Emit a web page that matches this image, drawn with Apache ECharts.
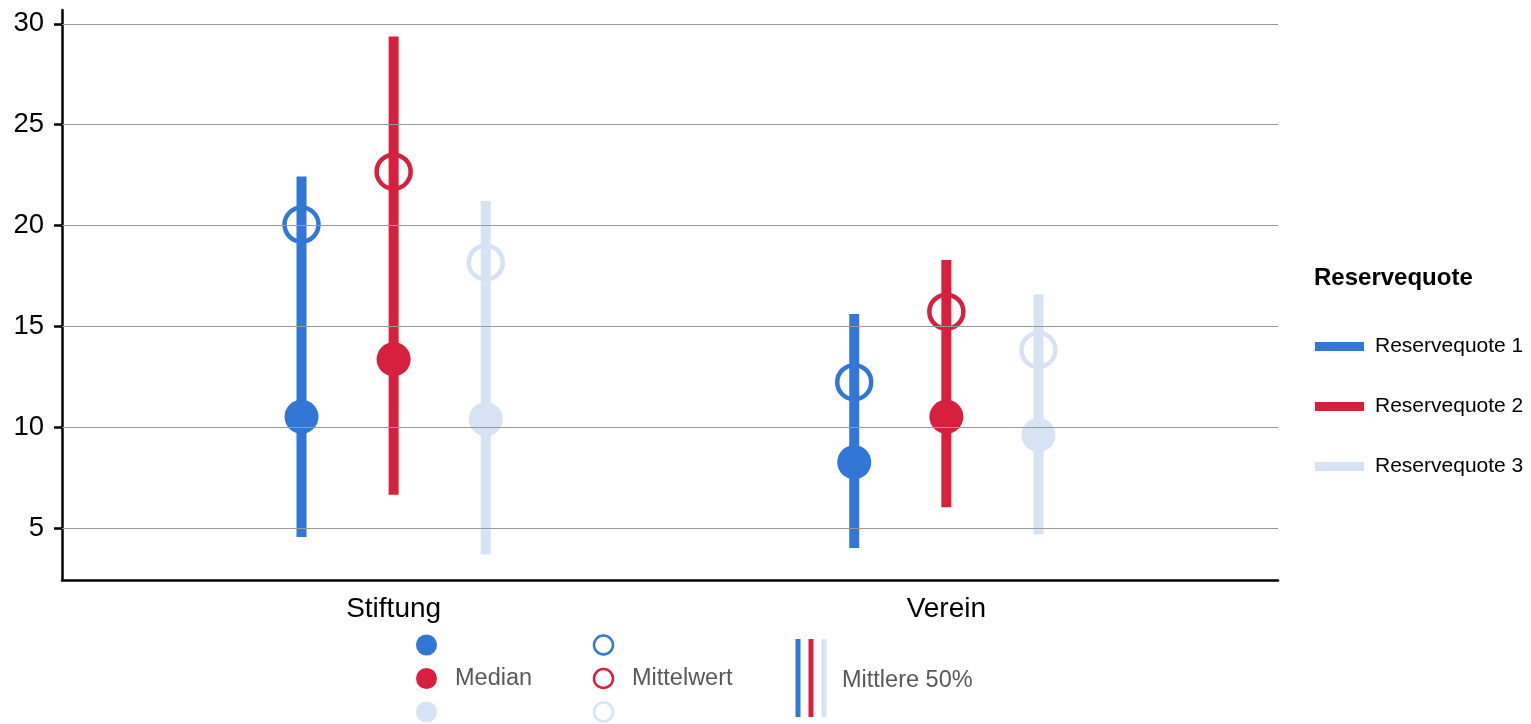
<!DOCTYPE html>
<html>
<head>
<meta charset="utf-8">
<script src="https://cdn.jsdelivr.net/npm/echarts@6/dist/echarts.min.js"></script>
<style>html,body{margin:0;padding:0;background:#fff}#c{width:1531px;height:724px}</style>
</head>
<body>
<div id="c"></div>
<script>
// ---- data ----
const categories = ['Stiftung', 'Verein'];
const groupNames = ['Reservequote 1', 'Reservequote 2', 'Reservequote 3'];
const yTicks = [5, 10, 15, 20, 25, 30];

const rq1Low    = [4.55, 4.01];
const rq1High   = [22.43, 15.61];
const rq1Median = [10.52, 8.26];
const rq1Mean   = [20.05, 12.23];

const rq2Low    = [6.65, 6.03];
const rq2High   = [29.37, 18.29];
const rq2Median = [13.37, 10.52];
const rq2Mean   = [22.67, 15.73];

const rq3Low    = [3.69, 4.69];
const rq3High   = [21.22, 16.59];
const rq3Median = [10.39, 9.61];
const rq3Mean   = [18.17, 13.83];

// ---- styling ----
const colors = ['#3276d6', '#d71f3e', '#d5e3f5'];
const FONT = '"Liberation Sans", Arial, sans-serif';
const dodge = 1 / 6;

const groups = [
  { low: rq1Low, high: rq1High, median: rq1Median, mean: rq1Mean },
  { low: rq2Low, high: rq2High, median: rq2Median, mean: rq2Mean },
  { low: rq3Low, high: rq3High, median: rq3Median, mean: rq3Mean }
];

const series = [];
// gridlines (behind everything)
series.push({
  type: 'scatter', data: [], silent: true, z: 0,
  markLine: {
    silent: true, symbol: 'none', animation: false,
    label: { show: false },
    lineStyle: { color: '#9a9a9a', width: 1, type: 'solid' },
    data: yTicks.map(v => ({ yAxis: v }))
  }
});

groups.forEach((g, gi) => {
  const off = (gi - 1) * dodge;
  const xs = categories.map((c, ci) => ci + 1 + off);
  series.push({
    name: groupNames[gi],
    type: 'custom',
    z: 2,
    itemStyle: { color: colors[gi] },
    data: xs.map((x, i) => [x, g.low[i], g.high[i]]),
    renderItem: function (params, api) {
      const p1 = api.coord([api.value(0), api.value(1)]);
      const p2 = api.coord([api.value(0), api.value(2)]);
      return {
        type: 'line',
        shape: { x1: p1[0], y1: p1[1], x2: p2[0], y2: p2[1] },
        style: { stroke: colors[gi], lineWidth: 10, lineCap: 'butt' }
      };
    }
  });
  series.push({
    name: groupNames[gi] + ' Mittelwert',
    type: 'scatter', z: 3,
    symbol: 'circle', symbolSize: 34,
    itemStyle: { color: 'rgba(0,0,0,0)', borderColor: colors[gi], borderWidth: 4.5, opacity: 1 },
    data: xs.map((x, i) => [x, g.mean[i]])
  });
  series.push({
    name: groupNames[gi] + ' Median',
    type: 'scatter', z: 4,
    symbol: 'circle', symbolSize: 34,
    itemStyle: { color: colors[gi], opacity: 1 },
    data: xs.map((x, i) => [x, g.median[i]])
  });
});

// bottom legend graphics
const graphic = [];
[645, 678.5, 712].forEach((y, i) => {
  graphic.push({ type: 'circle', shape: { cx: 426.5, cy: y, r: 10.5 }, style: { fill: colors[i] } });
  graphic.push({ type: 'circle', shape: { cx: 603.5, cy: y, r: 9.5 }, style: { fill: 'none', stroke: colors[i], lineWidth: 2.5 } });
});
[798, 811, 824].forEach((x, i) => {
  graphic.push({ type: 'line', shape: { x1: x, y1: 639, x2: x, y2: 717 }, style: { stroke: colors[i], lineWidth: 5 } });
});
graphic.push({ type: 'text', x: 455, y: 679, style: { text: 'Median', font: '23.5px ' + FONT, fill: '#595959', verticalAlign: 'middle' } });
graphic.push({ type: 'text', x: 632, y: 679, style: { text: 'Mittelwert', font: '23.5px ' + FONT, fill: '#595959', verticalAlign: 'middle' } });
graphic.push({ type: 'text', x: 842, y: 681, style: { text: 'Mittlere 50%', font: '23.5px ' + FONT, fill: '#595959', verticalAlign: 'middle' } });
graphic.push({ type: 'text', x: 1314, y: 278, style: { text: 'Reservequote', font: 'bold 24px ' + FONT, fill: '#000', verticalAlign: 'middle' } });

const chart = echarts.init(document.getElementById('c'), null, { renderer: 'canvas' });
chart.setOption({
  animation: false,
  backgroundColor: '#fff',
  textStyle: { fontFamily: FONT },
  grid: { left: 62, right: 253, top: 10, bottom: 144, containLabel: false },
  xAxis: {
    type: 'value', min: 0.4, max: 2.6,
    axisLine: { show: true, onZero: false, lineStyle: { color: '#000', width: 2.5 } },
    axisTick: { show: false },
    splitLine: { show: false },
    axisLabel: {
      customValues: [1, 2],
      formatter: v => categories[Math.round(v) - 1] || '',
      fontSize: 28, color: '#000', margin: 15, fontFamily: FONT
    }
  },
  yAxis: {
    type: 'value', min: 2.42, max: 30.69,
    axisLine: { show: true, onZero: false, lineStyle: { color: '#000', width: 2.5 } },
    axisTick: { show: true, customValues: yTicks, length: 8, lineStyle: { color: '#000', width: 2.5 } },
    splitLine: { show: false },
    axisLabel: {
      customValues: yTicks,
      fontSize: 27.5, color: '#000', margin: 18, fontFamily: FONT,
      padding: [4, 0, 0, 0]
    }
  },
  legend: {
    data: groupNames,
    orient: 'vertical',
    left: 1315, top: 336, padding: 0,
    icon: 'rect', itemWidth: 49, itemHeight: 9, itemGap: 39,
    textStyle: { fontSize: 21, color: '#000', fontFamily: FONT, padding: [0, 0, 0, 6] },
    selectedMode: false
  },
  graphic: graphic,
  series: series
});
</script>
</body>
</html>
